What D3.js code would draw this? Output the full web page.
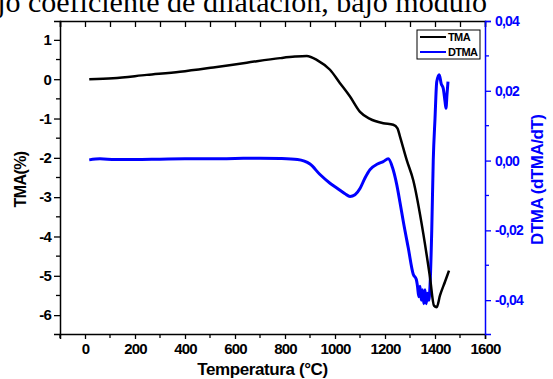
<!DOCTYPE html>
<html>
<head>
<meta charset="utf-8">
<script src="https://cdn.jsdelivr.net/npm/d3@7"></script>
<style>
  body { margin: 0; background: #fff; }
  text { font-family: "Liberation Sans", Arial, sans-serif; font-weight: bold; }
</style>
</head>
<body>
<div id="chart"></div>
<script>
// temperature (°C) and TMA (%)
var tmaTemp = [17, 112, 247, 380, 513, 647, 780, 840, 887, 930, 980, 1020, 1060, 1100, 1140, 1193, 1233, 1250, 1260, 1287, 1313, 1353, 1380, 1396, 1407, 1420, 1440, 1456];
var tmaVal  = [0, 0.025, 0.11, 0.19, 0.30, 0.42, 0.536, 0.575, 0.59, 0.48, 0.24, -0.10, -0.44, -0.83, -1.01, -1.12, -1.16, -1.25, -1.46, -2.06, -2.57, -3.92, -5.04, -5.76, -5.8, -5.5, -5.15, -4.87];

// DTMA (dTMA/dT)
var dtmaTemp = [17, 60, 120, 200, 300, 400, 500, 600, 700, 780, 850, 900, 940, 980, 1010, 1040, 1060, 1080, 1100, 1120, 1140, 1170, 1193, 1213, 1230, 1247, 1260, 1273, 1293, 1313, 1325, 1330, 1335, 1340, 1345, 1350, 1355, 1360, 1365, 1370, 1375, 1380, 1387, 1393, 1400, 1407, 1417, 1425, 1433, 1440, 1444, 1448, 1452];
var dtmaVal  = [0.0002, 0.0005, 0.0003, 0.0003, 0.0004, 0.0005, 0.0005, 0.0006, 0.0007, 0.0006, 0.0003, -0.001, -0.004, -0.0065, -0.008, -0.0095, -0.0103, -0.0098, -0.008, -0.005, -0.0026, -0.001, -0.0003, 0.0005, -0.002, -0.0069, -0.012, -0.0174, -0.025, -0.0326, -0.034, -0.036, -0.039, -0.036, -0.040, -0.037, -0.041, -0.037, -0.041, -0.038, -0.040, -0.036, -0.02, 0, 0.012, 0.0226, 0.0246, 0.022, 0.0207, 0.017, 0.015, 0.019, 0.0226];

var xTicks = [0, 200, 400, 600, 800, 1000, 1200, 1400, 1600];
var yLeftTicks = [1, 0, -1, -2, -3, -4, -5, -6];
var yRightTicks = [0.04, 0.02, 0, -0.02, -0.04];

var W = 553, H = 379;
var margin = {top: 21, right: 68, bottom: 45, left: 60},
    width = W - margin.left - margin.right,
    height = H - margin.top - margin.bottom;

var blue = "#0000ff";

var svg = d3.select("#chart").append("svg")
    .attr("width", W)
    .attr("height", H);

// cut-off caption line from the page above
svg.append("text")
    .attr("x", 487)
    .attr("y", 12)
    .attr("text-anchor", "end")
    .style("font-family", "'Liberation Serif', 'Times New Roman', serif")
    .style("font-weight", "normal")
    .style("font-size", "30px")
    .text("jo coeficiente de dilatación, bajo módulo");

var g = svg.append("g")
    .attr("transform", "translate(" + margin.left + "," + margin.top + ")");

var x = d3.scaleLinear().domain([-100, 1600]).range([0, width]);
var yL = d3.scaleLinear().domain([-6.48, 1.48]).range([height, 0]);
var yR = d3.scaleLinear().domain([-0.0497, 0.04]).range([height, 0]);

// bottom axis
var xAxis = d3.axisBottom(x)
    .tickValues(xTicks)
    .tickSize(5)
    .tickPadding(4)
    .tickFormat(d3.format("d"));
var xg = g.append("g")
    .attr("transform", "translate(0," + height + ")")
    .call(xAxis);
xg.selectAll(".tick text").style("font-size", "15px").style("letter-spacing", "-0.8px");
xg.selectAll(".tick line").attr("stroke-width", 1.3);
xg.select(".domain").attr("stroke-width", 1.5);
xg.append("g").selectAll("line")
    .data(d3.range(-100, 1600, 200))
    .enter().append("line")
    .attr("x1", function(d) { return x(d); })
    .attr("x2", function(d) { return x(d); })
    .attr("y1", 0).attr("y2", 4)
    .attr("stroke", "#000").attr("stroke-width", 1.3);

// top axis, ticks pointing in
var topAxis = d3.axisTop(x)
    .tickValues(d3.range(-100, 1601, 100))
    .tickSize(-6)
    .tickFormat("");
var tg = g.append("g").call(topAxis);
tg.select(".domain").attr("stroke-width", 1.5);
tg.selectAll(".tick line").attr("stroke-width", 1.3);

// left axis
var yAxisL = d3.axisLeft(yL)
    .tickValues(yLeftTicks)
    .tickSize(6)
    .tickPadding(3)
    .tickFormat(function(d) { return String(d); });
var lg = g.append("g").call(yAxisL);
lg.selectAll(".tick text").style("font-size", "15px").style("letter-spacing", "-0.8px");
lg.selectAll(".tick line").attr("stroke-width", 1.3);
lg.select(".domain").attr("stroke-width", 1.5);
lg.append("g").selectAll("line")
    .data([0.5, -0.5, -1.5, -2.5, -3.5, -4.5, -5.5])
    .enter().append("line")
    .attr("y1", function(d) { return yL(d); })
    .attr("y2", function(d) { return yL(d); })
    .attr("x1", 0).attr("x2", -4)
    .attr("stroke", "#000").attr("stroke-width", 1.3);

// right axis in blue
var yAxisR = d3.axisRight(yR)
    .tickValues(yRightTicks)
    .tickSize(6)
    .tickPadding(4)
    .tickFormat(function(d) { return d3.format(".2f")(d).replace(".", ",").replace("−", "-"); });
var rg = g.append("g")
    .attr("transform", "translate(" + width + ",0)")
    .call(yAxisR);
rg.selectAll(".tick text").style("font-size", "14px").style("letter-spacing", "-0.8px").attr("fill", blue);
rg.selectAll(".tick line").attr("stroke", blue).attr("stroke-width", 1.3);
rg.select(".domain").attr("stroke", blue).attr("stroke-width", 1.5);
rg.append("g").selectAll("line")
    .data([0.03, 0.01, -0.01, -0.03])
    .enter().append("line")
    .attr("y1", function(d) { return yR(d); })
    .attr("y2", function(d) { return yR(d); })
    .attr("x1", 0).attr("x2", 4)
    .attr("stroke", blue).attr("stroke-width", 1.3);

// axis titles
g.append("text")
    .attr("x", width / 2 - 10)
    .attr("y", height + 41)
    .attr("text-anchor", "middle")
    .style("font-size", "17px")
    .style("letter-spacing", "-0.4px")
    .text("Temperatura (°C)");

g.append("text")
    .attr("transform", "translate(-34," + (yL(-2.55)) + ") rotate(-90)")
    .attr("text-anchor", "middle")
    .style("font-size", "16px")
    .style("letter-spacing", "-0.6px")
    .text("TMA(%)");

g.append("text")
    .attr("transform", "translate(" + (width + 58) + "," + (yR(-0.0055)) + ") rotate(-90)")
    .attr("text-anchor", "middle")
    .attr("fill", blue)
    .style("font-size", "17px")
    .style("letter-spacing", "-0.5px")
    .text("DTMA (dTMA/dT)");

// curves
g.append("clipPath").attr("id", "clip")
  .append("rect").attr("width", width).attr("height", height);

var plot = g.append("g").attr("clip-path", "url(#clip)");

var dtmaLine = d3.line()
    .x(function(d, i) { return x(dtmaTemp[i]); })
    .y(function(d) { return yR(d); })
    .curve(d3.curveMonotoneX);

plot.append("path")
    .datum(dtmaVal)
    .attr("fill", "none")
    .attr("stroke", blue)
    .attr("stroke-width", 3)
    .attr("stroke-linejoin", "round")
    .attr("d", dtmaLine);

var tmaLine = d3.line()
    .x(function(d, i) { return x(tmaTemp[i]); })
    .y(function(d) { return yL(d); })
    .curve(d3.curveMonotoneX);

plot.append("path")
    .datum(tmaVal)
    .attr("fill", "none")
    .attr("stroke", "#000")
    .attr("stroke-width", 2.5)
    .attr("stroke-linejoin", "round")
    .attr("d", tmaLine);

// legend
var lgX = 417 - margin.left, lgY = 30 - margin.top;
var legend = g.append("g").attr("transform", "translate(" + lgX + "," + lgY + ")");
legend.append("rect")
    .attr("width", 63).attr("height", 29)
    .attr("fill", "#fff").attr("stroke", "#000").attr("stroke-width", 1);
var items = [{name: "TMA", color: "#000"}, {name: "DTMA", color: blue}];
items.forEach(function(it, i) {
  var yy = 7 + i * 15;
  legend.append("line")
      .attr("x1", 3).attr("x2", 29)
      .attr("y1", yy).attr("y2", yy)
      .attr("stroke", it.color).attr("stroke-width", 2);
  legend.append("text")
      .attr("x", 31).attr("y", yy + 4)
      .style("font-size", "11px")
      .style("letter-spacing", "-0.6px")
      .text(it.name);
});
</script>
</body>
</html>
